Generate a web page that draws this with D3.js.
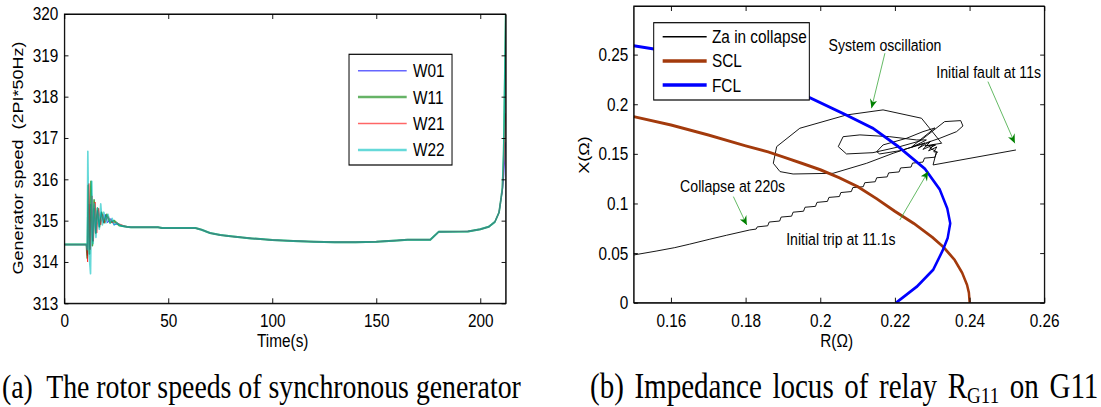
<!DOCTYPE html>
<html>
<head>
<meta charset="utf-8">
<script src="https://cdn.jsdelivr.net/npm/d3@7"></script>
<style>
body { margin: 0; background: #fff; }
svg { display: block; }
</style>
</head>
<body>
<div id="chart"></div>
<script>
// ---- left panel: rotor speeds ----
var speedNames = ["W01", "W11", "W21", "W22"];
var speedColors = ["#0000ff", "#008000", "#ff0000", "#00bfbf"];
var speedWidths = [1, 2, 1, 2];
var speedOpacity = [0.7, 0.7, 0.7, 0.6];
var timeTicks = [0, 50, 100, 150, 200];
var speedTicks = [313, 314, 315, 316, 317, 318, 319, 320];

// [time (s), speed] pairs
var w01Start = [[0,314.42],[10.6,314.42],[11.1,314.15],[11.7,315.4],[12.3,314.3],[12.9,315.4],[13.6,314.5],[14.4,315.3],[15.1,314.7],[15.9,315.25],[16.8,314.85],[17.8,315.2],[18.8,314.95],[19.8,315.15],[20.8,314.95],[22.3,315.05],[23.8,314.9],[25.8,314.92],[28,314.86],[30,314.85]];
var w11Start = [[0,314.42],[10.6,314.42],[11.0,314.1],[11.5,315.85],[12.1,314.2],[12.8,315.95],[13.5,314.4],[14.3,315.5],[15.1,314.7],[15.9,315.3],[16.9,314.85],[17.9,315.2],[19.1,314.95],[20.4,315.15],[21.9,314.95],[23.9,315.0],[26.5,314.88],[30,314.85]];
var w21Start = [[0,314.42],[10.6,314.42],[11.2,314.0],[11.8,315.9],[12.5,314.3],[13.3,315.6],[14.0,314.5],[14.8,315.45],[15.6,314.7],[16.5,315.3],[17.5,314.9],[18.5,315.15],[19.5,314.95],[21,315.1],[23,314.95],[25,314.95],[30,314.85]];
var w22Start = [[0,314.42],[10.6,314.42],[11.0,314.3],[11.3,316.67],[11.9,314.2],[12.6,313.72],[13.2,315.95],[13.8,314.45],[14.5,315.4],[15.2,314.6],[16,315.3],[16.8,314.8],[17.5,315.4],[18.3,314.9],[19,315.2],[20,314.95],[21,315.15],[22,314.95],[23,315.05],[24,314.9],[25,314.95],[27,314.88],[30,314.85]];
var speedMiddle = [[32,314.84],[45,314.84],[47,314.82],[63,314.82],[66,314.78],[70,314.7],[75,314.65],[80,314.62],[90,314.57],[100,314.53],[110,314.51],[120,314.49],[130,314.48],[140,314.48],[150,314.49],[160,314.52],[165,314.54],[176,314.54],[180,314.73],[194,314.74],[200,314.79],[204,314.85],[207,314.97],[209,315.2],[210,315.55]];
var w01End = [[210.6,315.7],[211.3,316.1],[212.2,316.9]];
var w11End = [[210.6,315.8],[211.2,316.6],[211.7,318.2],[212.2,320]];
var w21End = [[210.6,315.75],[211.3,316.4],[212.2,317.6]];
var w22End = [[210.6,315.8],[211.2,316.7],[211.7,318.4],[212.2,320]];

// ---- right panel: impedance locus ----
var rTicks = [0.16, 0.18, 0.2, 0.22, 0.24, 0.26];
var xTicks = [0, 0.05, 0.1, 0.15, 0.2, 0.25];
var locusNames = ["Za in collapse", "SCL", "FCL"];
var locusColors = ["#000000", "#a33a0c", "#0000ff"];
var locusWidths = [1, 3, 3];

var scl = [[0.15,0.1875],[0.16,0.179],[0.17,0.169],[0.18,0.158],[0.186,0.152],[0.19,0.147],[0.195,0.1405],[0.2,0.134],[0.205,0.126],[0.21,0.117],[0.215,0.105],[0.22,0.092],[0.225,0.08],[0.23,0.066],[0.233,0.056],[0.236,0.043],[0.238,0.03],[0.2393,0.018],[0.2398,0.01],[0.24,0]];
var fcl = [[0.15,0.259],[0.16,0.253],[0.17,0.245],[0.18,0.235],[0.19,0.221],[0.197,0.207],[0.207,0.189],[0.214,0.176],[0.221,0.157],[0.228,0.135],[0.232,0.114],[0.234,0.095],[0.2348,0.08],[0.2341,0.065],[0.2327,0.052],[0.2302,0.033],[0.2258,0.016],[0.2203,0]];
var zaFault = [[0.2524,0.1539],[0.2302,0.1388],[0.2311,0.1522],[0.2293,0.1559],[0.2309,0.159],[0.228,0.158]];
var zaBigLoop = [[0.2325,0.1607],[0.2271,0.1859],[0.2168,0.1943],[0.207,0.1892],[0.1945,0.1758],[0.1883,0.1573],[0.1874,0.1405],[0.1892,0.1321],[0.1927,0.1297],[0.2034,0.1304],[0.2124,0.1405],[0.2195,0.1506],[0.2249,0.1573],[0.2284,0.164]];
var zaMidLoop = [[0.2258,0.164],[0.2186,0.1673],[0.2106,0.1691],[0.2061,0.1673],[0.2048,0.1573],[0.207,0.1499],[0.2141,0.1512],[0.2213,0.1573],[0.2267,0.163]];
var zaLongLoop = [[0.2333,0.1825],[0.2376,0.1835],[0.2382,0.1781],[0.2365,0.1724],[0.232,0.1657],[0.2275,0.16],[0.2213,0.1532],[0.2159,0.1499],[0.2151,0.1522],[0.2168,0.159],[0.2231,0.1657],[0.2275,0.1724],[0.2307,0.1761]];
var zaTangle = [[0.2267,0.164],[0.2245,0.157],[0.228,0.161],[0.2262,0.1555],[0.2295,0.1625],[0.2275,0.1545],[0.2305,0.1595],[0.229,0.153],[0.2312,0.157],[0.2304,0.152],[0.2314,0.1519]];
var zaSteps = [[0.2311,0.1506],[0.2307,0.1466],[0.2279,0.1457],[0.2275,0.1417],[0.2247,0.1407],[0.2243,0.1367],[0.2215,0.1358],[0.2211,0.1318],[0.2183,0.1308],[0.2179,0.1268],[0.2151,0.1259],[0.2147,0.1219],[0.2119,0.1209],[0.2115,0.1169],[0.2087,0.116],[0.2083,0.112],[0.2055,0.111],[0.2051,0.107],[0.2023,0.1061],[0.2019,0.1021],[0.1991,0.1011],[0.1987,0.0971],[0.1959,0.0962],[0.1955,0.0922],[0.1927,0.0912],[0.1923,0.0872],[0.1895,0.0863],[0.1891,0.0823],[0.1863,0.0813],[0.1859,0.0775],[0.1831,0.0764],[0.1828,0.0742],[0.1811,0.0733]];
var zaCollapse = [[0.1749,0.068],[0.1704,0.064],[0.165,0.059],[0.161,0.0555],[0.156,0.052],[0.15,0.0481]];

var noteLabels = ["System oscillation", "Initial fault at 11s", "Collapse at 220s", "Initial trip at 11.1s"];
var noteText = [[0.2173,0.2598],[0.2451,0.2329],[0.1765,0.1176],[0.2055,0.0642]];
var noteFrom = [[0.2173,0.2514],[0.2449,0.2228],[0.1767,0.1069],[0.2213,0.0834]];
var noteTo = [[0.2137,0.196],[0.2521,0.1607],[0.1803,0.0783],[0.2289,0.1321]];

// the figure is squeezed horizontally, so draw wide and scale x
var sx = 0.83;
var fontSans = "'Liberation Sans', Arial, sans-serif";
var fontSerif = "'Liberation Serif', 'Times New Roman', serif";
var fmt = function (d) { return String(d); };

var svg = d3.select("#chart").append("svg")
    .attr("width", 1101)
    .attr("height", 407);
var root = svg.append("g").attr("transform", "scale(" + sx + ",1)");

var defs = root.append("defs");
defs.append("marker")
    .attr("id", "arrowhead")
    .attr("markerUnits", "userSpaceOnUse")
    .attr("viewBox", "0 0 10 10")
    .attr("refX", 10).attr("refY", 5)
    .attr("markerWidth", 12).attr("markerHeight", 9)
    .attr("orient", "auto")
    .append("path")
    .attr("d", "M0,0 L10,5 L0,10 L3,5 Z")
    .attr("fill", "#008000");

function drawFrame(g, x, y, xt, yt, box, padX, padY) {
    g.append("g")
        .attr("transform", "translate(0," + box.bottom + ")")
        .call(d3.axisBottom(x).tickValues(xt).tickFormat(fmt).tickSizeInner(-5).tickSizeOuter(0).tickPadding(padX));
    g.append("g")
        .attr("transform", "translate(" + box.left + ",0)")
        .call(d3.axisLeft(y).tickValues(yt).tickFormat(fmt).tickSizeInner(-5).tickSizeOuter(0).tickPadding(padY));
    g.append("g")
        .attr("transform", "translate(0," + box.top + ")")
        .call(d3.axisTop(x).tickValues(xt).tickSizeInner(-5).tickSizeOuter(0).tickFormat(""));
    g.append("g")
        .attr("transform", "translate(" + box.right + ",0)")
        .call(d3.axisRight(y).tickValues(yt).tickSizeInner(-5).tickSizeOuter(0).tickFormat(""));
    g.selectAll(".tick text")
        .attr("font-size", 18.5)
        .attr("font-family", fontSans)
        .attr("fill", "#000");
    g.selectAll(".domain").attr("stroke", "#000");
    g.selectAll(".tick line").attr("stroke", "#000");
    g.append("rect")
        .attr("x", box.left).attr("y", box.top)
        .attr("width", box.right - box.left).attr("height", box.bottom - box.top)
        .attr("fill", "none").attr("stroke", "#000").attr("stroke-width", 1);
}

// ---------- left panel ----------
var boxL = { left: 77.5, right: 609.3, top: 14, bottom: 303.3 };
var xL = d3.scaleLinear().domain([0, 212.2]).range([boxL.left, boxL.right]);
var yL = d3.scaleLinear().domain([313, 320]).range([boxL.bottom, boxL.top]);
var gL = root.append("g");

defs.append("clipPath").attr("id", "clipL").append("rect")
    .attr("x", boxL.left).attr("y", boxL.top)
    .attr("width", boxL.right - boxL.left).attr("height", boxL.bottom - boxL.top);

var speedSeries = [
    w01Start.concat(speedMiddle, w01End),
    w11Start.concat(speedMiddle, w11End),
    w21Start.concat(speedMiddle, w21End),
    w22Start.concat(speedMiddle, w22End)
];
var lineL = d3.line().x(function (d) { return xL(d[0]); }).y(function (d) { return yL(d[1]); });

gL.append("g").attr("clip-path", "url(#clipL)")
    .selectAll("path")
    .data(speedSeries)
    .enter().append("path")
    .attr("d", lineL)
    .attr("fill", "none")
    .attr("stroke", function (d, i) { return speedColors[i]; })
    .attr("stroke-width", function (d, i) { return speedWidths[i]; })
    .attr("stroke-opacity", function (d, i) { return speedOpacity[i]; })
    .attr("stroke-linejoin", "round");

drawFrame(gL, xL, yL, timeTicks, speedTicks, boxL, 11, 7.3);

// legend
var legL = gL.append("g");
legL.append("rect")
    .attr("x", 420.5).attr("y", 54.3).attr("width", 124.1).attr("height", 110.7)
    .attr("fill", "#fff").attr("stroke", "#000").attr("stroke-width", 1.2);
speedNames.forEach(function (name, i) {
    var yy = 70.7 + i * 26.4;
    legL.append("line")
        .attr("x1", 431.3).attr("x2", 490).attr("y1", yy).attr("y2", yy)
        .attr("stroke", speedColors[i]).attr("stroke-width", speedWidths[i] + 0.5)
        .attr("stroke-opacity", 0.6);
    legL.append("text")
        .attr("x", 497.6).attr("y", yy).attr("dy", "0.35em")
        .attr("font-size", 18.5).attr("font-family", fontSans)
        .text(name);
});

gL.append("text")
    .attr("transform", "translate(27.3,158) rotate(-90)")
    .attr("text-anchor", "middle")
    .attr("font-size", 18).attr("font-family", fontSans)
    .text("Generator speed  (2PI*50Hz)")
    .style("white-space", "pre");
gL.append("text")
    .attr("x", 340.6).attr("y", 347)
    .attr("text-anchor", "middle")
    .attr("font-size", 18.5).attr("font-family", fontSans)
    .text("Time(s)");

// ---------- right panel ----------
var boxR = { left: 763.5, right: 1258.2, top: 6, bottom: 302.7 };
var xR = d3.scaleLinear().domain([0.15, 0.26]).range([boxR.left, boxR.right]);
var yR = d3.scaleLinear().domain([0, 0.299]).range([boxR.bottom, boxR.top]);
var gR = root.append("g");

defs.append("clipPath").attr("id", "clipR").append("rect")
    .attr("x", boxR.left).attr("y", boxR.top)
    .attr("width", boxR.right - boxR.left).attr("height", boxR.bottom - boxR.top);

var lineR = d3.line().x(function (d) { return xR(d[0]); }).y(function (d) { return yR(d[1]); });
var za = zaFault.concat(zaBigLoop, zaMidLoop, zaLongLoop, zaTangle, zaSteps, zaCollapse);
var locusSeries = [za, scl, fcl];

gR.append("g").attr("clip-path", "url(#clipR)")
    .selectAll("path")
    .data(locusSeries)
    .enter().append("path")
    .attr("d", lineR)
    .attr("fill", "none")
    .attr("stroke", function (d, i) { return locusColors[i]; })
    .attr("stroke-width", function (d, i) { return locusWidths[i]; })
    .attr("stroke-linejoin", "round");

drawFrame(gR, xR, yR, rTicks, xTicks, boxR, 11.5, 6.5);

// legend
var legR = gR.append("g");
legR.append("rect")
    .attr("x", 787.6).attr("y", 22.7).attr("width", 187.5).attr("height", 77.3)
    .attr("fill", "#fff").attr("stroke", "#000").attr("stroke-width", 1.2);
locusNames.forEach(function (name, i) {
    var yy = 36.7 + i * 24.2;
    legR.append("line")
        .attr("x1", 798.4).attr("x2", 851.4).attr("y1", yy).attr("y2", yy)
        .attr("stroke", locusColors[i]).attr("stroke-width", locusWidths[i] + 0.5);
    legR.append("text")
        .attr("x", 857.8).attr("y", yy).attr("dy", "0.35em")
        .attr("font-size", 18.5).attr("font-family", fontSans)
        .text(name);
});

// annotations
noteLabels.forEach(function (label, i) {
    gR.append("line")
        .attr("x1", xR(noteFrom[i][0])).attr("y1", yR(noteFrom[i][1]))
        .attr("x2", xR(noteTo[i][0])).attr("y2", yR(noteTo[i][1]))
        .attr("stroke", "#2ca02c").attr("stroke-width", 0.8)
        .attr("marker-end", "url(#arrowhead)");
    gR.append("text")
        .attr("x", xR(noteText[i][0])).attr("y", yR(noteText[i][1])).attr("dy", "0.35em")
        .attr("text-anchor", "middle")
        .attr("font-size", 17).attr("font-family", fontSans)
        .text(label);
});

gR.append("text")
    .attr("transform", "translate(709.6,155) rotate(-90)")
    .attr("text-anchor", "middle")
    .attr("font-size", 18).attr("font-family", fontSans)
    .text("X(\u03A9)");
gR.append("text")
    .attr("x", 1008).attr("y", 347)
    .attr("text-anchor", "middle")
    .attr("font-size", 18.5).attr("font-family", fontSans)
    .text("R(\u03A9)");

// ---------- captions ----------
root.append("text")
    .attr("x", 2.4).attr("y", 398)
    .attr("font-size", 33.5).attr("font-family", fontSerif)
    .style("white-space", "pre")
    .text("(a)  The rotor speeds of synchronous generator");
var capB = root.append("text")
    .attr("x", 710.8).attr("y", 398)
    .attr("font-size", 35).attr("font-family", fontSerif)
    .attr("word-spacing", 4);
capB.append("tspan").text("(b) Impedance locus of relay R");
capB.append("tspan").attr("font-size", 23).attr("dy", 5).text("G11");
capB.append("tspan").attr("dy", -5).style("white-space", "pre").text(" on G11");
</script>
</body>
</html>
